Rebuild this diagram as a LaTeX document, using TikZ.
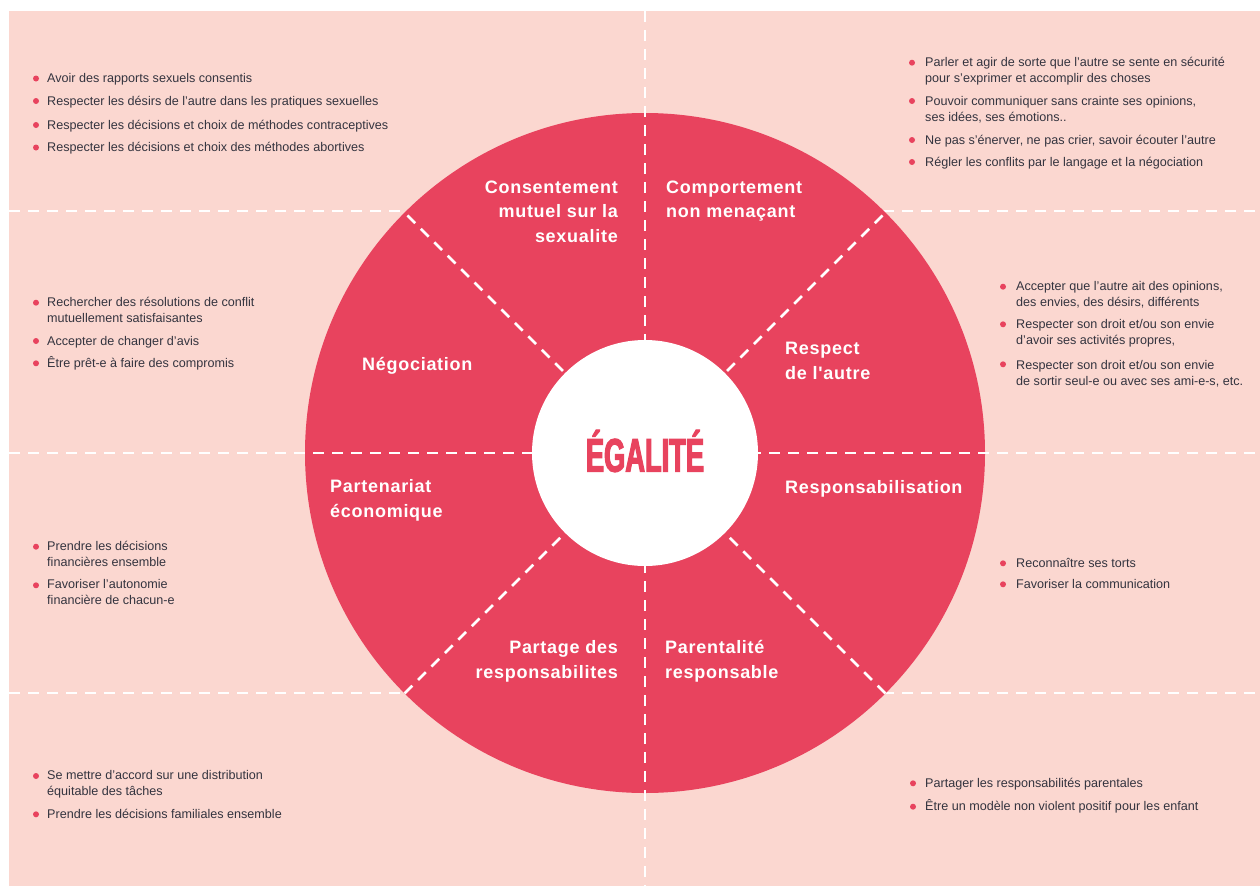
\documentclass[tikz,border=0pt]{standalone}
\usepackage{fontspec}
\setmainfont{Liberation Sans}
\newfontfamily\labelfont{Liberation Sans}[LetterSpace=4]
\newfontfamily\titlefont{Liberation Sans}[FakeStretch=0.58,FakeBold=2.5]
\definecolor{blush}{HTML}{FBD7D0}
\definecolor{rose}{HTML}{E8435E}
\definecolor{ink}{HTML}{34343F}
\tikzset{
  dashline/.style={white, line width=2.5pt, dash pattern=on 11pt off 8pt},
  point/.style={anchor=base west, inner sep=0pt, align=left, text=ink,
    font=\fontsize{12.6}{16}\selectfont},
  sector/.style={inner sep=0pt, text=white,
    font=\labelfont\bfseries\fontsize{18}{24.5}\selectfont},
}

\begin{document}
\begin{tikzpicture}[x=1pt,y=-1pt]
\useasboundingbox[fill=white] (0,0) rectangle (1260,886);
\fill[blush] (9,11) rectangle (1260,886);
% grid lines behind the wheel
\draw[dashline] (9,211) -- (1260,211);
\draw[dashline] (9,693) -- (1260,693);

% the wheel and its eight sectors
\fill[rose] (645,453) circle (340);
\draw[dashline] (645,11) -- (645,886);
\draw[dashline] (9,453) -- (1260,453);
\draw[dashline] (645,453) +(45:340) -- +(225:340);
\draw[dashline] (645,453) +(135:340) -- +(315:340);
\fill[white] (645,453) circle (113);
\node[text=rose, font=\titlefont\bfseries\fontsize{47}{47}\selectfont] (egalite) at (645,451) {ÉGALITÉ};

% multi-line nodes sit on the baseline of their last line
\node[sector, anchor=base east, align=right] (consent) at (618,242) {Consentement\\mutuel sur la\\sexualite};
\node[sector, anchor=base west, align=left] (menace) at (666,217.5) {Comportement\\non menaçant};
\node[sector, anchor=base west] (nego) at (362,370) {Négociation};
\node[sector, anchor=base west, align=left] (respect) at (785,379) {Respect\\de l'autre};
\node[sector, anchor=base west, align=left] (eco) at (330,517) {Partenariat\\économique};
\node[sector, anchor=base west] (respons) at (785,493) {Responsabilisation};
\node[sector, anchor=base east, align=right] (partage) at (618,678) {Partage des\\responsabilites};
\node[sector, anchor=base west, align=left] (parent) at (665,678) {Parentalité\\responsable};

% top left: consent
\fill[rose] (36,78.5) circle (3);
\node[point] (consA) at (47,82.5) {Avoir des rapports sexuels consentis};
\fill[rose] (36,101) circle (3);
\node[point] (consB) at (47,105) {Respecter les désirs de l'autre dans les pratiques sexuelles};
\fill[rose] (36,125) circle (3);
\node[point] (consC) at (47,129) {Respecter les décisions et choix de méthodes contraceptives};
\fill[rose] (36,147.5) circle (3);
\node[point] (consD) at (47,151.5) {Respecter les décisions et choix des méthodes abortives};

% top right: no threats
\fill[rose] (912,62.7) circle (3);
\node[point] (menA) at (925,82.2) {Parler et agir de sorte que l'autre se sente en sécurité\\pour s'exprimer et accomplir des choses};
\fill[rose] (912,101) circle (3);
\node[point] (menB) at (925,121.5) {Pouvoir communiquer sans crainte ses opinions,\\ses idées, ses émotions..};
\fill[rose] (912,140) circle (3);
\node[point] (menC) at (925,144) {Ne pas s'énerver, ne pas crier, savoir écouter l'autre};
\fill[rose] (912,162) circle (3);
\node[point] (menD) at (925,166) {Régler les conflits par le langage et la négociation};

% middle left: negotiation
\fill[rose] (36,302.7) circle (3);
\node[point] (negoA) at (47,322.7) {Rechercher des résolutions de conflit\\mutuellement satisfaisantes};
\fill[rose] (36,341) circle (3);
\node[point] (negoB) at (47,345) {Accepter de changer d'avis};
\fill[rose] (36,363.3) circle (3);
\node[point] (negoC) at (47,367.3) {Être prêt-e à faire des compromis};

% middle right: respect
\fill[rose] (1003,286.7) circle (3);
\node[point] (respA) at (1016,306.7) {Accepter que l'autre ait des opinions,\\des envies, des désirs, différents};
\fill[rose] (1003,324.3) circle (3);
\node[point] (respB) at (1016,344) {Respecter son droit et/ou son envie\\d'avoir ses activités propres,};
\fill[rose] (1003,364.3) circle (3);
\node[point] (respC) at (1016,385) {Respecter son droit et/ou son envie\\de sortir seul-e ou avec ses ami-e-s, etc.};

% lower left: money
\fill[rose] (36,546.7) circle (3);
\node[point] (ecoA) at (47,566) {Prendre les décisions\\financières ensemble};
\fill[rose] (36,585.3) circle (3);
\node[point] (ecoB) at (47,604.3) {Favoriser l'autonomie\\financière de chacun-e};

% lower right: accountability
\fill[rose] (1003,563.3) circle (3);
\node[point] (accA) at (1016,567.3) {Reconnaître ses torts};
\fill[rose] (1003,584.3) circle (3);
\node[point] (accB) at (1016,588.3) {Favoriser la communication};

% bottom left: shared tasks
\fill[rose] (36,776) circle (3);
\node[point] (taskA) at (47,795.7) {Se mettre d'accord sur une distribution\\équitable des tâches};
\fill[rose] (36,814.3) circle (3);
\node[point] (taskB) at (47,818.3) {Prendre les décisions familiales ensemble};

% bottom right: parenting
\fill[rose] (913,783.3) circle (3);
\node[point] (kidsA) at (925,787.3) {Partager les responsabilités parentales};
\fill[rose] (913,806.7) circle (3);
\node[point] (kidsB) at (925,810.7) {Être un modèle non violent positif pour les enfant};
\end{tikzpicture}
\end{document}
